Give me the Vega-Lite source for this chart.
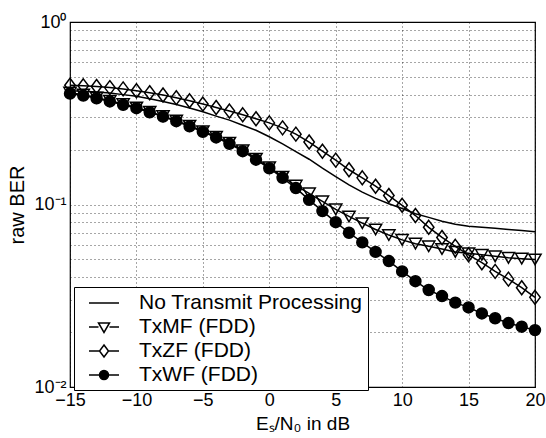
{
  "$schema": "https://vega.github.io/schema/vega-lite/v6.json",
  "width": 465,
  "height": 365,
  "autosize": "none",
  "padding": {"left": 70, "top": 22, "right": 11, "bottom": 51},
  "background": "white",
  "config": {
    "font": "Liberation Sans",
    "view": {"stroke": "black", "strokeWidth": 1.2}
  },
  "data": {
    "values": [
      {"series": "No Transmit Processing", "x": -15, "y": 0.42},
      {"series": "No Transmit Processing", "x": -14, "y": 0.418},
      {"series": "No Transmit Processing", "x": -13, "y": 0.414},
      {"series": "No Transmit Processing", "x": -12, "y": 0.408},
      {"series": "No Transmit Processing", "x": -11, "y": 0.4},
      {"series": "No Transmit Processing", "x": -10, "y": 0.392},
      {"series": "No Transmit Processing", "x": -9, "y": 0.38},
      {"series": "No Transmit Processing", "x": -8, "y": 0.367},
      {"series": "No Transmit Processing", "x": -7, "y": 0.353},
      {"series": "No Transmit Processing", "x": -6, "y": 0.338},
      {"series": "No Transmit Processing", "x": -5, "y": 0.322},
      {"series": "No Transmit Processing", "x": -4, "y": 0.305},
      {"series": "No Transmit Processing", "x": -3, "y": 0.29},
      {"series": "No Transmit Processing", "x": -2, "y": 0.272},
      {"series": "No Transmit Processing", "x": -1, "y": 0.255},
      {"series": "No Transmit Processing", "x": 0, "y": 0.235},
      {"series": "No Transmit Processing", "x": 1, "y": 0.215},
      {"series": "No Transmit Processing", "x": 2, "y": 0.195},
      {"series": "No Transmit Processing", "x": 3, "y": 0.177},
      {"series": "No Transmit Processing", "x": 4, "y": 0.158},
      {"series": "No Transmit Processing", "x": 5, "y": 0.142},
      {"series": "No Transmit Processing", "x": 6, "y": 0.128},
      {"series": "No Transmit Processing", "x": 7, "y": 0.117},
      {"series": "No Transmit Processing", "x": 8, "y": 0.108},
      {"series": "No Transmit Processing", "x": 9, "y": 0.101},
      {"series": "No Transmit Processing", "x": 10, "y": 0.095},
      {"series": "No Transmit Processing", "x": 11, "y": 0.089},
      {"series": "No Transmit Processing", "x": 12, "y": 0.085},
      {"series": "No Transmit Processing", "x": 13, "y": 0.081},
      {"series": "No Transmit Processing", "x": 14, "y": 0.078},
      {"series": "No Transmit Processing", "x": 15, "y": 0.076},
      {"series": "No Transmit Processing", "x": 16, "y": 0.075},
      {"series": "No Transmit Processing", "x": 17, "y": 0.074},
      {"series": "No Transmit Processing", "x": 18, "y": 0.073},
      {"series": "No Transmit Processing", "x": 19, "y": 0.072},
      {"series": "No Transmit Processing", "x": 20, "y": 0.071},
      {"series": "TxMF (FDD)", "x": -15, "y": 0.41},
      {"series": "TxMF (FDD)", "x": -14, "y": 0.4},
      {"series": "TxMF (FDD)", "x": -13, "y": 0.385},
      {"series": "TxMF (FDD)", "x": -12, "y": 0.37},
      {"series": "TxMF (FDD)", "x": -11, "y": 0.355},
      {"series": "TxMF (FDD)", "x": -10, "y": 0.34},
      {"series": "TxMF (FDD)", "x": -9, "y": 0.322},
      {"series": "TxMF (FDD)", "x": -8, "y": 0.305},
      {"series": "TxMF (FDD)", "x": -7, "y": 0.288},
      {"series": "TxMF (FDD)", "x": -6, "y": 0.27},
      {"series": "TxMF (FDD)", "x": -5, "y": 0.252},
      {"series": "TxMF (FDD)", "x": -4, "y": 0.235},
      {"series": "TxMF (FDD)", "x": -3, "y": 0.218},
      {"series": "TxMF (FDD)", "x": -2, "y": 0.198},
      {"series": "TxMF (FDD)", "x": -1, "y": 0.178},
      {"series": "TxMF (FDD)", "x": 0, "y": 0.16},
      {"series": "TxMF (FDD)", "x": 1, "y": 0.142},
      {"series": "TxMF (FDD)", "x": 2, "y": 0.127},
      {"series": "TxMF (FDD)", "x": 3, "y": 0.115},
      {"series": "TxMF (FDD)", "x": 4, "y": 0.104},
      {"series": "TxMF (FDD)", "x": 5, "y": 0.094},
      {"series": "TxMF (FDD)", "x": 6, "y": 0.086},
      {"series": "TxMF (FDD)", "x": 7, "y": 0.079},
      {"series": "TxMF (FDD)", "x": 8, "y": 0.073},
      {"series": "TxMF (FDD)", "x": 9, "y": 0.068},
      {"series": "TxMF (FDD)", "x": 10, "y": 0.064},
      {"series": "TxMF (FDD)", "x": 11, "y": 0.061},
      {"series": "TxMF (FDD)", "x": 12, "y": 0.059},
      {"series": "TxMF (FDD)", "x": 13, "y": 0.057},
      {"series": "TxMF (FDD)", "x": 14, "y": 0.055},
      {"series": "TxMF (FDD)", "x": 15, "y": 0.054},
      {"series": "TxMF (FDD)", "x": 16, "y": 0.053},
      {"series": "TxMF (FDD)", "x": 17, "y": 0.052},
      {"series": "TxMF (FDD)", "x": 18, "y": 0.051},
      {"series": "TxMF (FDD)", "x": 19, "y": 0.0505},
      {"series": "TxMF (FDD)", "x": 20, "y": 0.05},
      {"series": "TxZF (FDD)", "x": -15, "y": 0.45},
      {"series": "TxZF (FDD)", "x": -14, "y": 0.447},
      {"series": "TxZF (FDD)", "x": -13, "y": 0.443},
      {"series": "TxZF (FDD)", "x": -12, "y": 0.437},
      {"series": "TxZF (FDD)", "x": -11, "y": 0.43},
      {"series": "TxZF (FDD)", "x": -10, "y": 0.42},
      {"series": "TxZF (FDD)", "x": -9, "y": 0.41},
      {"series": "TxZF (FDD)", "x": -8, "y": 0.398},
      {"series": "TxZF (FDD)", "x": -7, "y": 0.385},
      {"series": "TxZF (FDD)", "x": -6, "y": 0.37},
      {"series": "TxZF (FDD)", "x": -5, "y": 0.355},
      {"series": "TxZF (FDD)", "x": -4, "y": 0.34},
      {"series": "TxZF (FDD)", "x": -3, "y": 0.325},
      {"series": "TxZF (FDD)", "x": -2, "y": 0.31},
      {"series": "TxZF (FDD)", "x": -1, "y": 0.295},
      {"series": "TxZF (FDD)", "x": 0, "y": 0.28},
      {"series": "TxZF (FDD)", "x": 1, "y": 0.263},
      {"series": "TxZF (FDD)", "x": 2, "y": 0.243},
      {"series": "TxZF (FDD)", "x": 3, "y": 0.22},
      {"series": "TxZF (FDD)", "x": 4, "y": 0.196},
      {"series": "TxZF (FDD)", "x": 5, "y": 0.175},
      {"series": "TxZF (FDD)", "x": 6, "y": 0.155},
      {"series": "TxZF (FDD)", "x": 7, "y": 0.14},
      {"series": "TxZF (FDD)", "x": 8, "y": 0.126},
      {"series": "TxZF (FDD)", "x": 9, "y": 0.112},
      {"series": "TxZF (FDD)", "x": 10, "y": 0.099},
      {"series": "TxZF (FDD)", "x": 11, "y": 0.087},
      {"series": "TxZF (FDD)", "x": 12, "y": 0.075},
      {"series": "TxZF (FDD)", "x": 13, "y": 0.066},
      {"series": "TxZF (FDD)", "x": 14, "y": 0.059},
      {"series": "TxZF (FDD)", "x": 15, "y": 0.053},
      {"series": "TxZF (FDD)", "x": 16, "y": 0.048},
      {"series": "TxZF (FDD)", "x": 17, "y": 0.043},
      {"series": "TxZF (FDD)", "x": 18, "y": 0.039},
      {"series": "TxZF (FDD)", "x": 19, "y": 0.035},
      {"series": "TxZF (FDD)", "x": 20, "y": 0.031},
      {"series": "TxWF (FDD)", "x": -15, "y": 0.405},
      {"series": "TxWF (FDD)", "x": -14, "y": 0.395},
      {"series": "TxWF (FDD)", "x": -13, "y": 0.382},
      {"series": "TxWF (FDD)", "x": -12, "y": 0.367},
      {"series": "TxWF (FDD)", "x": -11, "y": 0.352},
      {"series": "TxWF (FDD)", "x": -10, "y": 0.337},
      {"series": "TxWF (FDD)", "x": -9, "y": 0.32},
      {"series": "TxWF (FDD)", "x": -8, "y": 0.303},
      {"series": "TxWF (FDD)", "x": -7, "y": 0.286},
      {"series": "TxWF (FDD)", "x": -6, "y": 0.268},
      {"series": "TxWF (FDD)", "x": -5, "y": 0.25},
      {"series": "TxWF (FDD)", "x": -4, "y": 0.233},
      {"series": "TxWF (FDD)", "x": -3, "y": 0.215},
      {"series": "TxWF (FDD)", "x": -2, "y": 0.196},
      {"series": "TxWF (FDD)", "x": -1, "y": 0.176},
      {"series": "TxWF (FDD)", "x": 0, "y": 0.158},
      {"series": "TxWF (FDD)", "x": 1, "y": 0.14},
      {"series": "TxWF (FDD)", "x": 2, "y": 0.123},
      {"series": "TxWF (FDD)", "x": 3, "y": 0.106},
      {"series": "TxWF (FDD)", "x": 4, "y": 0.092},
      {"series": "TxWF (FDD)", "x": 5, "y": 0.08},
      {"series": "TxWF (FDD)", "x": 6, "y": 0.07},
      {"series": "TxWF (FDD)", "x": 7, "y": 0.062},
      {"series": "TxWF (FDD)", "x": 8, "y": 0.055},
      {"series": "TxWF (FDD)", "x": 9, "y": 0.049},
      {"series": "TxWF (FDD)", "x": 10, "y": 0.043},
      {"series": "TxWF (FDD)", "x": 11, "y": 0.038},
      {"series": "TxWF (FDD)", "x": 12, "y": 0.034},
      {"series": "TxWF (FDD)", "x": 13, "y": 0.0315},
      {"series": "TxWF (FDD)", "x": 14, "y": 0.029},
      {"series": "TxWF (FDD)", "x": 15, "y": 0.0273},
      {"series": "TxWF (FDD)", "x": 16, "y": 0.0253},
      {"series": "TxWF (FDD)", "x": 17, "y": 0.0238},
      {"series": "TxWF (FDD)", "x": 18, "y": 0.0224},
      {"series": "TxWF (FDD)", "x": 19, "y": 0.0214},
      {"series": "TxWF (FDD)", "x": 20, "y": 0.0205}
    ]
  },
  "encoding": {
    "x": {
      "field": "x",
      "type": "quantitative",
      "scale": {"domain": [-15, 20], "nice": false, "zero": false},
      "axis": {
        "title": "Eₛ/N₀ in dB",
        "values": [-15, -10, -5, 0, 5, 10, 15, 20],
        "grid": true,
        "gridColor": "black",
        "gridDash": [1, 3],
        "gridOpacity": 0.7,
        "ticks": false,
        "domain": false,
        "labelFlush": false,
        "labelFontSize": 18,
        "labelColor": "black",
        "labelPadding": 4,
        "titleFontSize": 19,
        "titleFontWeight": "normal",
        "titleColor": "black",
        "titlePadding": 5
      }
    },
    "y": {
      "field": "y",
      "type": "quantitative",
      "scale": {"type": "log", "domain": [0.01, 1], "nice": false},
      "axis": {
        "title": "raw BER",
        "values": [0.01, 0.02, 0.03, 0.04, 0.05, 0.06, 0.07, 0.08, 0.09, 0.1, 0.2, 0.3, 0.4, 0.5, 0.6, 0.7, 0.8, 0.9, 1],
        "labelExpr": "datum.value == 1 ? '10⁰' : (datum.value == 0.1 ? '10⁻¹' : (datum.value == 0.01 ? '10⁻²' : ''))",
        "grid": true,
        "gridColor": "black",
        "gridDash": [1, 3],
        "gridOpacity": 0.7,
        "ticks": false,
        "domain": false,
        "labelFlush": false,
        "labelOverlap": false,
        "labelFontSize": 18,
        "labelColor": "black",
        "labelPadding": 4,
        "titleFontSize": 20,
        "titleFontWeight": "normal",
        "titleColor": "black",
        "titlePadding": 6
      }
    }
  },
  "resolve": {"scale": {"shape": "independent", "fill": "independent", "size": "independent", "stroke": "independent"}},
  "layer": [
    {
      "mark": {"type": "line", "color": "black", "strokeWidth": 1.5},
      "encoding": {"detail": {"field": "series"}}
    },
    {
      "transform": [{"filter": "datum.series != 'No Transmit Processing'"}],
      "mark": {"type": "point", "filled": true, "stroke": "black", "strokeWidth": 1.5, "opacity": 1},
      "encoding": {
        "shape": {
          "field": "series",
          "type": "nominal",
          "scale": {
            "domain": ["TxMF (FDD)", "TxZF (FDD)", "TxWF (FDD)"],
            "range": ["triangle-down", "M0,-1.2L0.9,0L0,1.2L-0.9,0Z", "circle"]
          },
          "legend": null
        },
        "fill": {
          "field": "series",
          "type": "nominal",
          "scale": {"domain": ["TxMF (FDD)", "TxZF (FDD)", "TxWF (FDD)"], "range": ["transparent", "transparent", "black"]},
          "legend": null
        },
        "size": {
          "field": "series",
          "type": "nominal",
          "scale": {"domain": ["TxMF (FDD)", "TxZF (FDD)", "TxWF (FDD)"], "range": [150, 120, 100]},
          "legend": null
        }
      }
    },
    {
      "transform": [{"filter": "false"}],
      "mark": {"type": "point", "filled": true, "stroke": "black", "strokeWidth": 1.5, "opacity": 1},
      "encoding": {
        "shape": {
          "field": "series",
          "type": "nominal",
          "title": null,
          "scale": {
            "domain": ["No Transmit Processing", "TxMF (FDD)", "TxZF (FDD)", "TxWF (FDD)"],
            "range": [
              "M-1.5,0H1.5",
              "M-1.5,0H-0.55M0.55,0H1.5M-0.55,-0.4H0.55L0,0.55Z",
              "M-1.5,0H-0.45M0.45,0H1.5M0,-0.6L0.45,0L0,0.6L-0.45,0Z",
              "M-1.5,0H1.5M0.45,0A0.45,0.45 0 1,1 -0.45,0A0.45,0.45 0 1,1 0.45,0Z"
            ]
          },
          "legend": {
            "title": null,
            "orient": "none",
            "legendX": 4,
            "legendY": 265,
            "fillColor": "white",
            "strokeColor": "black",
            "padding": 5,
            "rowPadding": 3,
            "symbolSize": 400,
            "symbolOffset": 14,
            "labelOffset": 24,
            "labelFontSize": 21,
            "labelColor": "black",
            "labelLimit": 400,
            "symbolStrokeWidth": 1.5,
            "symbolStrokeColor": "black"
          }
        },
        "fill": {
          "field": "series",
          "type": "nominal",
          "title": null,
          "scale": {
            "domain": ["No Transmit Processing", "TxMF (FDD)", "TxZF (FDD)", "TxWF (FDD)"],
            "range": ["transparent", "transparent", "transparent", "black"]
          },
          "legend": {
            "title": null,
            "orient": "none",
            "legendX": 4,
            "legendY": 265,
            "fillColor": "white",
            "strokeColor": "black",
            "padding": 5,
            "rowPadding": 3,
            "symbolSize": 400,
            "symbolOffset": 14,
            "labelOffset": 24,
            "labelFontSize": 21,
            "labelColor": "black",
            "labelLimit": 400,
            "symbolStrokeWidth": 1.5,
            "symbolStrokeColor": "black"
          }
        },
        "stroke": {
          "field": "series",
          "type": "nominal",
          "title": null,
          "scale": {
            "domain": ["No Transmit Processing", "TxMF (FDD)", "TxZF (FDD)", "TxWF (FDD)"],
            "range": ["black", "black", "black", "black"]
          },
          "legend": {
            "title": null,
            "orient": "none",
            "legendX": 4,
            "legendY": 265,
            "fillColor": "white",
            "strokeColor": "black",
            "padding": 5,
            "rowPadding": 3,
            "symbolSize": 400,
            "symbolOffset": 14,
            "labelOffset": 24,
            "labelFontSize": 21,
            "labelColor": "black",
            "labelLimit": 400,
            "symbolStrokeWidth": 1.5,
            "symbolStrokeColor": "black"
          }
        }
      }
    }
  ]
}
